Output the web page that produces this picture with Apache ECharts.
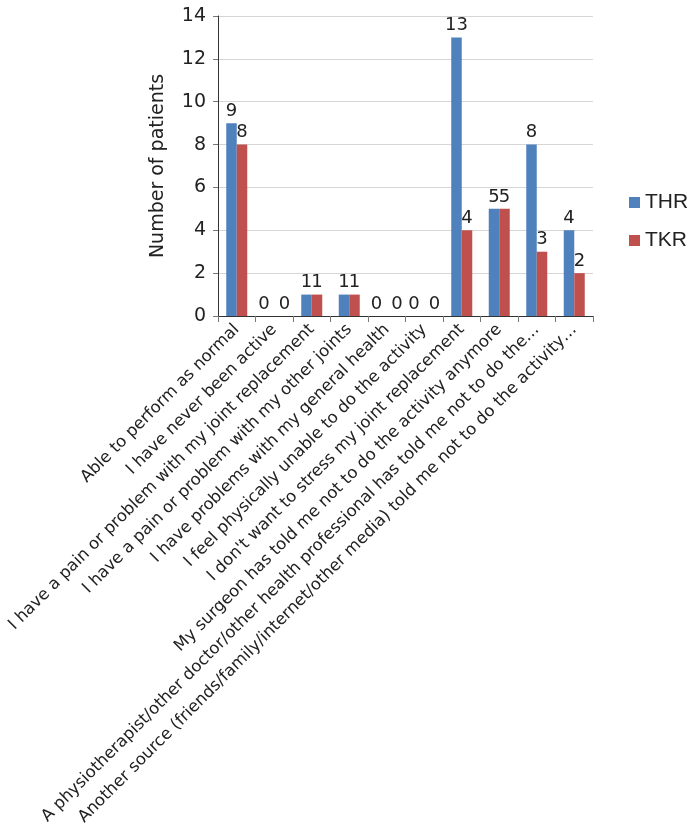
<!DOCTYPE html>
<html>
<head>
<meta charset="utf-8">
<script src="https://cdn.jsdelivr.net/npm/echarts@6/dist/echarts.min.js"></script>
<style>
html,body{margin:0;padding:0;background:#fff;}
#chart{width:694px;height:833px;}
</style>
</head>
<body>
<div id="chart"></div>
<script>
const categories = [
  "Able to perform as normal",
  "I have never been active",
  "I have a pain or problem with my joint replacement",
  "I have a pain or problem with my other joints",
  "I have problems with my general health",
  "I feel physically unable to do the activity",
  "I don't want to stress my joint replacement",
  "My surgeon has told me not to do the activity anymore",
  "A physiotherapist/other doctor/other health professional has told me not to do the…",
  "Another source (friends/family/internet/other media) told me not to do the activity…"
];
const thr = [9, 0, 1, 1, 0, 0, 13, 5, 8, 4];
const tkr = [8, 0, 1, 1, 0, 0, 4, 5, 3, 2];
const yTicks = [0, 2, 4, 6, 8, 10, 12, 14];

const chart = echarts.init(document.getElementById('chart'), null, {renderer: 'canvas'});
const font = 'DejaVu Sans, Verdana, sans-serif';
const labelStyle = {show: true, position: 'top', distance: 3, color: '#222', fontSize: 18, fontFamily: font};
// zero-valued labels are spread apart so they do not collide
const withZeroOffset = (arr, dx) => arr.map(v => v === 0 ? {value: v, label: {offset: [dx, 0]}} : v);

chart.setOption({
  animation: false,
  backgroundColor: '#fff',
  grid: {left: 218, right: 101, top: 16, bottom: 517, containLabel: false},
  legend: {
    orient: 'vertical', left: 624, top: 187,
    itemWidth: 11, itemHeight: 11, itemGap: 17,
    icon: 'rect',
    textStyle: {fontFamily: 'Liberation Sans, Arial, sans-serif', fontSize: 21, color: '#222', lineHeight: 20},
    data: ['THR', 'TKR']
  },
  xAxis: {
    type: 'category',
    data: categories,
    axisLine: {lineStyle: {color: '#333', width: 1}},
    axisTick: {show: true, length: 6, lineStyle: {color: '#777'}},
    axisLabel: {rotate: 45, interval: 0, margin: 11, fontSize: 16.5, fontFamily: font, color: '#222'}
  },
  yAxis: {
    type: 'value',
    min: yTicks[0], max: yTicks[yTicks.length - 1], interval: 2,
    name: 'Number of patients',
    nameLocation: 'middle', nameGap: 50,
    nameTextStyle: {fontSize: 19, fontFamily: font, color: '#222'},
    axisLine: {show: true, lineStyle: {color: '#333', width: 1}},
    axisTick: {show: true, length: 5, lineStyle: {color: '#777'}},
    axisLabel: {margin: 12, fontSize: 19, fontFamily: font, color: '#222'},
    splitLine: {lineStyle: {color: '#d6d6d6'}}
  },
  series: [
    {name: 'THR', type: 'bar', data: withZeroOffset(thr, -5), barGap: '0%', barCategoryGap: '44%',
     itemStyle: {color: '#4F81BD'}, label: labelStyle},
    {name: 'TKR', type: 'bar', data: withZeroOffset(tkr, 5), barGap: '0%', barCategoryGap: '44%',
     itemStyle: {color: '#C0504D'}, label: labelStyle}
  ]
});
</script>
</body>
</html>
